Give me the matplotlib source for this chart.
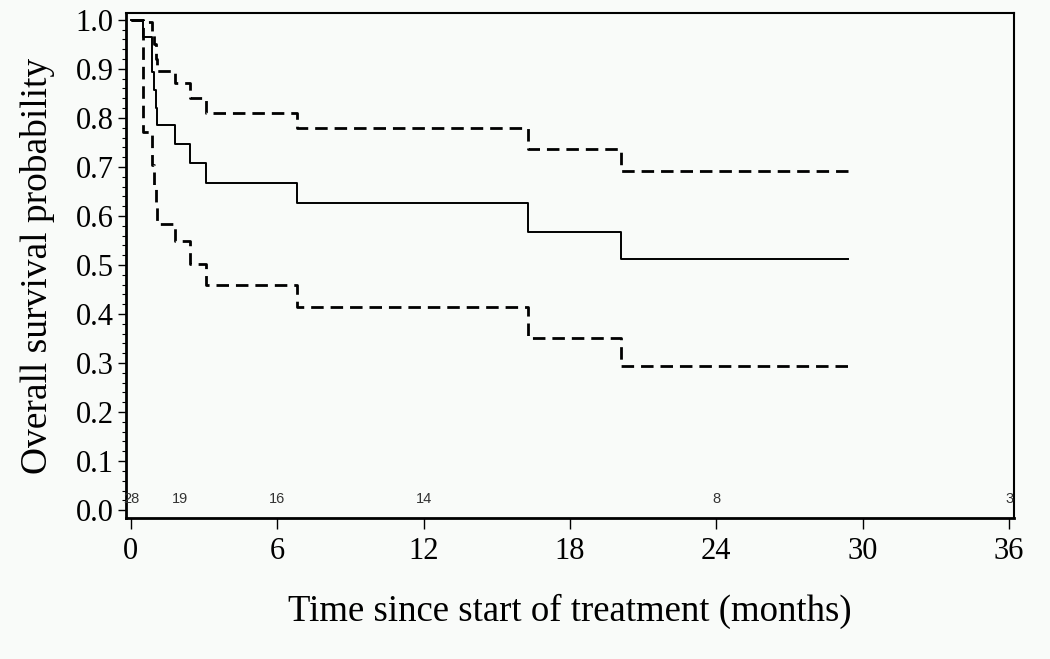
import matplotlib
matplotlib.use("Agg")
import matplotlib.pyplot as plt
from matplotlib.ticker import MultipleLocator

# Kaplan-Meier estimate with 95% CI (step curves)
times = [0, 0.48, 0.85, 0.94, 1.01, 1.07, 1.82, 2.42, 3.07, 6.79, 16.26, 20.09, 29.38]
surv = [1.0, 0.964, 0.893, 0.857, 0.821, 0.786, 0.746, 0.707, 0.667, 0.627, 0.568, 0.512, 0.512]
upper = [1.0, 0.995, 0.975, 0.95, 0.92, 0.896, 0.871, 0.840, 0.811, 0.779, 0.737, 0.692, 0.692]
lower = [1.0, 0.772, 0.704, 0.66, 0.62, 0.584, 0.548, 0.503, 0.459, 0.414, 0.352, 0.294, 0.294]

# number at risk
risk_times = [0, 2, 6, 12, 24, 36]
risk_n = [28, 19, 16, 14, 8, 3]

bg = '#f9fbf9'
serif = 'Liberation Serif'

fig = plt.figure(figsize=(10.5, 6.59), dpi=100, facecolor=bg)
ax = fig.add_axes([0.12, 0.214, 0.8457, 0.7663], facecolor=bg)

ax.step(times, surv, where='post', color='black', lw=1.4)
ax.step(times, upper, where='post', color='black', lw=2.0, dashes=(4.5, 2.5))
ax.step(times, lower, where='post', color='black', lw=2.0, dashes=(4.5, 2.5))

for t, n in zip(risk_times, risk_n):
    ax.text(t, 0.022, str(n), ha='center', va='center', fontsize=10.5,
            family='Liberation Sans', color='#333333')

ax.set_xlim(-0.2, 36.2)
ax.set_ylim(-0.016, 1.014)
ax.set_xticks(range(0, 37, 6))
ax.yaxis.set_major_locator(MultipleLocator(0.1))
ax.yaxis.set_minor_locator(MultipleLocator(0.02))
ax.set_yticklabels([f'{v:.1f}' for v in ax.get_yticks()])

ax.tick_params(axis='both', direction='out', labelsize=22, width=1, colors='black')
ax.tick_params(axis='x', length=8, pad=6)
ax.tick_params(axis='y', which='major', length=6, pad=3)
ax.tick_params(axis='y', which='minor', length=3, width=0.8)
for lab in ax.get_xticklabels() + ax.get_yticklabels():
    lab.set_family(serif)

for side in ['left', 'bottom']:
    ax.spines[side].set_linewidth(2)
for side in ['top', 'right']:
    ax.spines[side].set_linewidth(1.5)

ax.set_xlabel('Time since start of treatment (months)', family=serif, fontsize=26.5, labelpad=20)
ax.set_ylabel('Overall survival probability', family=serif, fontsize=27, labelpad=15)

fig.savefig('out.png', dpi=100, facecolor=bg)
